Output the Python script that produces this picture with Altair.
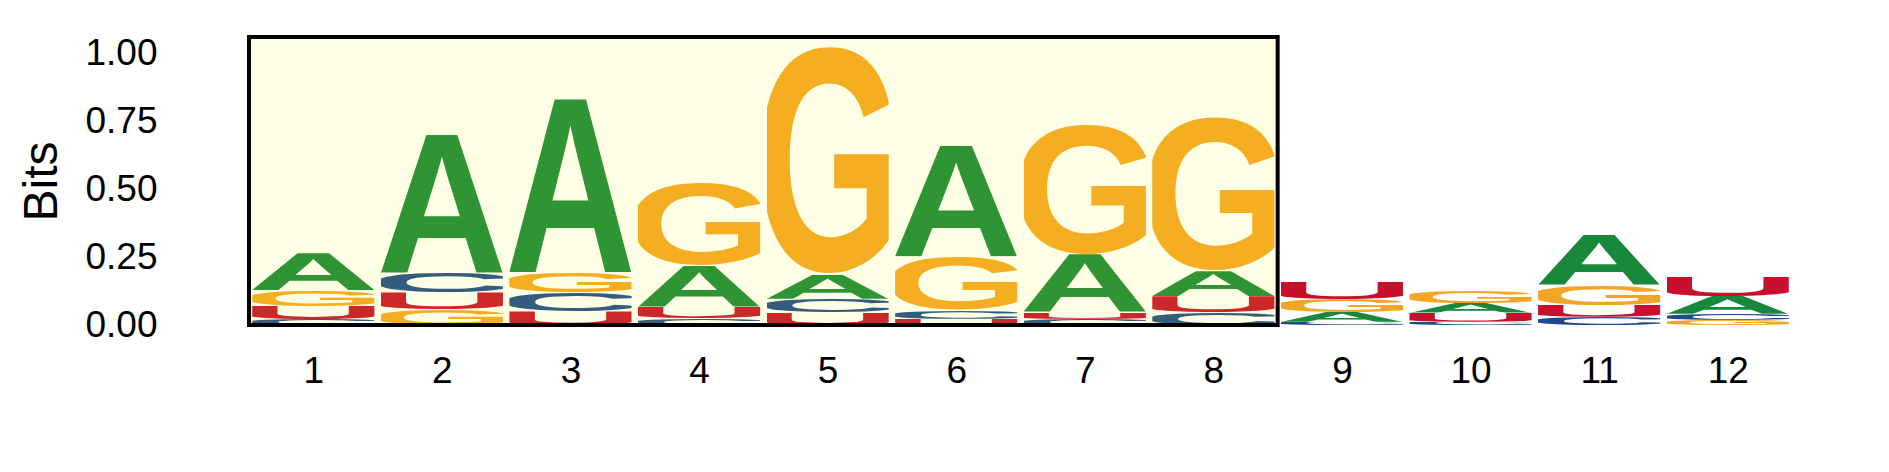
import base64
import altair as alt
import pandas as pd

# ---- data (bits per letter at each position) ----
positions = list(range(1, 13))
bits_A = [0.136, 0.507, 0.635, 0.149, 0.089, 0.406, 0.212, 0.092, 0.036, 0.035, 0.1835, 0.066]
bits_C = [0.022, 0.073, 0.070, 0.026, 0.051, 0.031, 0.023, 0.046, 0.012, 0.012, 0.030, 0.022]
bits_G = [0.058, 0.058, 0.075, 0.307, 0.850, 0.199, 0.487, 0.576, 0.047, 0.044, 0.075, 0.019]
bits_U = [0.048, 0.062, 0.050, 0.042, 0.046, 0.023, 0.025, 0.060, 0.063, 0.034, 0.044, 0.070]
highlight_start = [0.5]
highlight_end = [8.5]
y_top = 1.06
y_ticks = [0.0, 0.25, 0.5, 0.75, 1.0]

colors = {"A": "#18883a", "C": "#1d4a8c", "G": "#f4a526", "U": "#c8102e"}
# glyph ink boxes (font-size 100, baseline at 0) so each letter fills its cell
boxes = {
    "A": "2.5 -68.4 67.2 68.4",
    "C": "6.2 -71.0 59.0 72.4",
    "G": "6.6 -71.0 63.2 72.4",
    "U": "9.3 -68.4 53.6 69.8",
}


def glyph_url(letter):
    svg = (
        '<svg xmlns="http://www.w3.org/2000/svg" viewBox="%s" '
        'preserveAspectRatio="none" width="200" height="200">'
        '<text x="0" y="0" font-family="Arial" '
        'font-weight="bold" font-size="100" fill="%s">%s</text></svg>'
        % (boxes[letter], colors[letter], letter)
    )
    return "data:image/svg+xml;base64," + base64.b64encode(svg.encode()).decode()


rows = []
for letter, vals in (("A", bits_A), ("C", bits_C), ("G", bits_G), ("U", bits_U)):
    for p, v in zip(positions, vals):
        rows.append({"pos": p, "letter": letter, "bits": v, "url": glyph_url(letter)})
df = pd.DataFrame(rows)

xscale = alt.Scale(domain=[0.5, 12.5], nice=False, zero=False)
yscale = alt.Scale(domain=[0, y_top], nice=False)

letters = (
    alt.Chart(df)
    .transform_stack(
        stack="bits",
        groupby=["pos"],
        sort=[alt.SortField("bits", order="ascending")],
        as_=["y0", "y1"],
    )
    .transform_calculate(xl="datum.pos - 0.475", xr="datum.pos + 0.475")
    .mark_image(aspect=False)
    .encode(
        x=alt.X(
            "xl:Q",
            scale=xscale,
            axis=alt.Axis(
                values=positions,
                format="d",
                title=None,
                ticks=False,
                domain=False,
                grid=False,
                labelFontSize=37,
                labelFont="Liberation Sans",
                labelColor="black",
                labelPadding=28,
            ),
        ),
        x2="xr:Q",
        y=alt.Y(
            "y0:Q",
            scale=yscale,
            axis=alt.Axis(
                values=y_ticks,
                format=".2f",
                title="Bits",
                titleFontSize=48,
                titleFont="Liberation Sans",
                titleFontWeight="normal",
                titleColor="black",
                titlePadding=18,
                ticks=False,
                domain=False,
                grid=False,
                labelFontSize=37,
                labelFont="Liberation Sans",
                labelColor="black",
                labelPadding=92,
            ),
        ),
        y2="y1:Q",
        url="url:N",
    )
)

hl = pd.DataFrame({"x0": highlight_start, "x1": highlight_end, "b": [0.0], "t": [y_top]})
frame = (
    alt.Chart(hl)
    .mark_rect(fill="#ffff00", fillOpacity=0.1, stroke="black", strokeWidth=4, strokeOpacity=1)
    .encode(
        x=alt.X("x0:Q", scale=xscale),
        x2="x1:Q",
        y=alt.Y("b:Q", scale=yscale),
        y2="t:Q",
    )
)

chart = (
    alt.layer(letters, frame)
    .properties(
        width=1543,
        height=288,
        autosize=alt.AutoSizeParams(type="none"),
        padding={"left": 241, "top": 29, "right": 60, "bottom": 130},
    )
    .configure(background="white")
    .configure_view(stroke="transparent", strokeWidth=0)
    .configure_axis(grid=False, domain=False, ticks=False)
)

chart.save("out.html", embed_options={"renderer": "svg", "actions": False})
